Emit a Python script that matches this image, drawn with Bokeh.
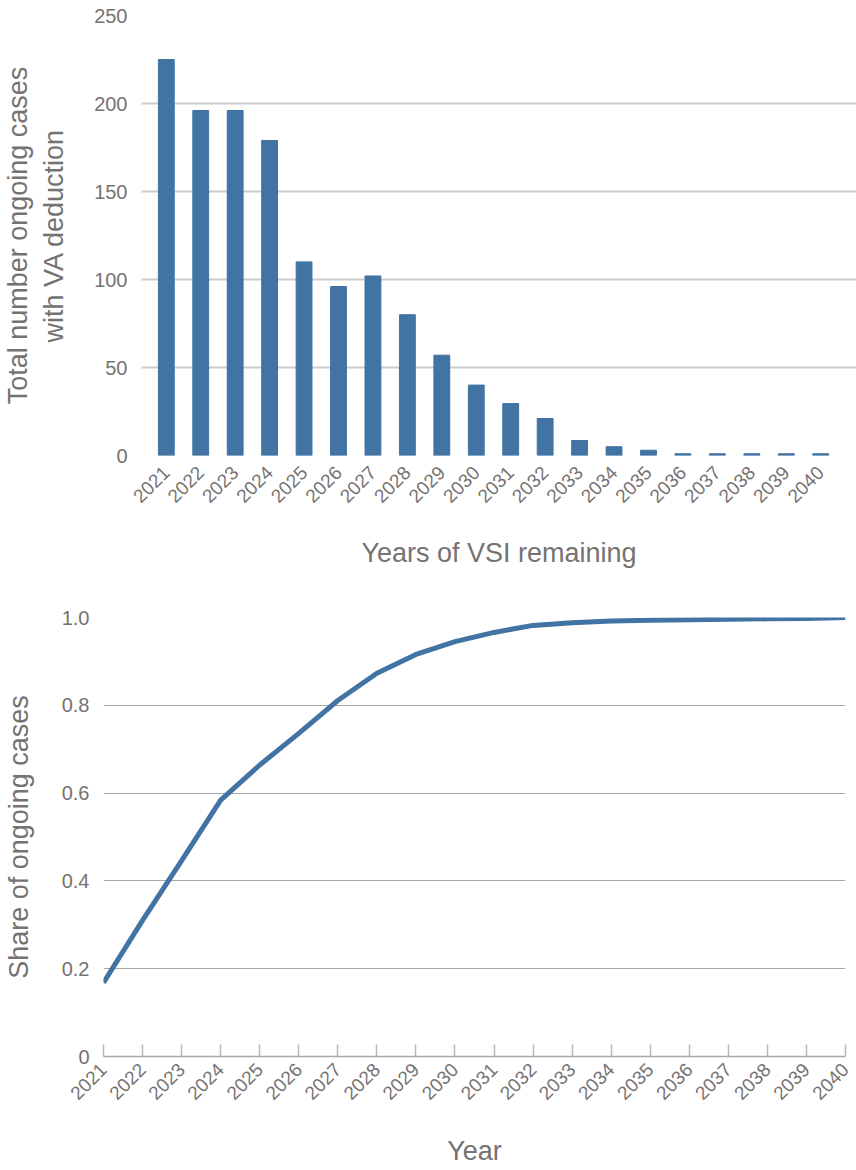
import math
from bokeh.plotting import figure
from bokeh.models import Range1d, FixedTicker
from bokeh.embed import file_html
from bokeh.resources import INLINE

years = list(range(2021, 2041))
year_labels = [str(y) for y in years]
cases = [225, 196, 196, 179, 110, 96, 102, 80, 57, 40, 29.5, 21, 8.5, 5, 3, 1, 1, 1, 1, 1]
share = [0.168, 0.31, 0.446, 0.584, 0.664, 0.736, 0.811, 0.873, 0.916, 0.945, 0.966, 0.982,
         0.988, 0.992, 0.994, 0.995, 0.996, 0.997, 0.998, 1.0]
top_ticks = [0, 50, 100, 150, 200, 250]
bot_ticks = [0, 0.2, 0.4, 0.6, 0.8, 1.0]
bot_tick_labels = ["0", "0.2", "0.4", "0.6", "0.8", "1.0"]

FONT = "Liberation Sans"
TXT = "#767272"
BLUE = "#4173a3"
TICK_FS = "20px"
XTICK_FS = "19px"
TITLE_FS = "27px"

# ---------------- top chart ----------------
p1 = figure(width=856, height=572, output_backend="svg", toolbar_location=None,
            x_range=Range1d(2020.28, 2041.04), y_range=Range1d(0, 250),
            min_border_left=140, min_border_right=0, min_border_top=15, min_border_bottom=117)
p1.outline_line_color = None
p1.vbar(x=years, top=cases, width=0.46, color=BLUE)

p1.xgrid.visible = False
p1.ygrid.grid_line_color = "#cccccc"
p1.ygrid.grid_line_width = 2
p1.ygrid.ticker = FixedTicker(ticks=top_ticks)

xa = p1.xaxis[0]
xa.ticker = FixedTicker(ticks=years)
xa.major_label_overrides = {y: l for y, l in zip(years, year_labels)}
xa.major_label_orientation = math.pi / 4
xa.axis_line_color = None
xa.major_tick_line_color = None
xa.minor_tick_line_color = None
xa.major_label_text_font = FONT
xa.major_label_text_font_size = XTICK_FS
xa.major_label_text_color = TXT
xa.major_label_standoff = 8
xa.axis_label = "Years of VSI remaining"
xa.axis_label_text_font = FONT
xa.axis_label_text_font_size = TITLE_FS
xa.axis_label_text_font_style = "normal"
xa.axis_label_text_color = TXT
xa.axis_label_standoff = 26

ya = p1.yaxis[0]
ya.ticker = FixedTicker(ticks=top_ticks)
ya.axis_line_color = None
ya.major_tick_line_color = None
ya.minor_tick_line_color = None
ya.major_label_text_font = FONT
ya.major_label_text_font_size = TICK_FS
ya.major_label_text_color = TXT
ya.major_label_standoff = 8
ya.axis_label = "Total number ongoing cases\nwith VA deduction"
ya.axis_label_text_font = FONT
ya.axis_label_text_font_size = TITLE_FS
ya.axis_label_text_font_style = "normal"
ya.axis_label_text_color = TXT
ya.axis_label_standoff = 22

# ---------------- bottom chart ----------------
p2 = figure(width=856, height=596, output_backend="svg", toolbar_location=None,
            x_range=Range1d(2021, 2040), y_range=Range1d(0, 1.0),
            min_border_left=101, min_border_right=11, min_border_top=45, min_border_bottom=111)
p2.outline_line_color = None
p2.line(x=years, y=share, line_width=5, color=BLUE)

p2.xgrid.visible = False
p2.ygrid.grid_line_color = "#a8a8a8"
p2.ygrid.grid_line_width = 1
p2.ygrid.ticker = FixedTicker(ticks=bot_ticks[1:])

xb = p2.xaxis[0]
xb.ticker = FixedTicker(ticks=years)
xb.major_label_overrides = {y: l for y, l in zip(years, year_labels)}
xb.major_label_orientation = math.pi / 4
xb.axis_line_color = "#a8a8a8"
xb.axis_line_width = 1.5
xb.major_tick_line_color = "#b8b8b8"
xb.major_tick_line_width = 1.5
xb.major_tick_in = 12
xb.major_tick_out = 0
xb.minor_tick_line_color = None
xb.major_label_text_font = FONT
xb.major_label_text_font_size = XTICK_FS
xb.major_label_text_color = TXT
xb.major_label_standoff = 10
xb.axis_label = "Year"
xb.axis_label_text_font = FONT
xb.axis_label_text_font_size = TITLE_FS
xb.axis_label_text_font_style = "normal"
xb.axis_label_text_color = TXT
xb.axis_label_standoff = 27

yb = p2.yaxis[0]
yb.ticker = FixedTicker(ticks=bot_ticks)
yb.major_label_overrides = {t: l for t, l in zip(bot_ticks, bot_tick_labels)}
yb.axis_line_color = None
yb.major_tick_line_color = None
yb.minor_tick_line_color = None
yb.major_label_text_font = FONT
yb.major_label_text_font_size = TICK_FS
yb.major_label_text_color = TXT
yb.major_label_standoff = 8
yb.axis_label = "Share of ongoing cases"
yb.axis_label_text_font = FONT
yb.axis_label_text_font_size = TITLE_FS
yb.axis_label_text_font_style = "normal"
yb.axis_label_text_color = TXT
yb.axis_label_standoff = 25

open("out.html", "w").write(file_html([p1, p2], INLINE))
